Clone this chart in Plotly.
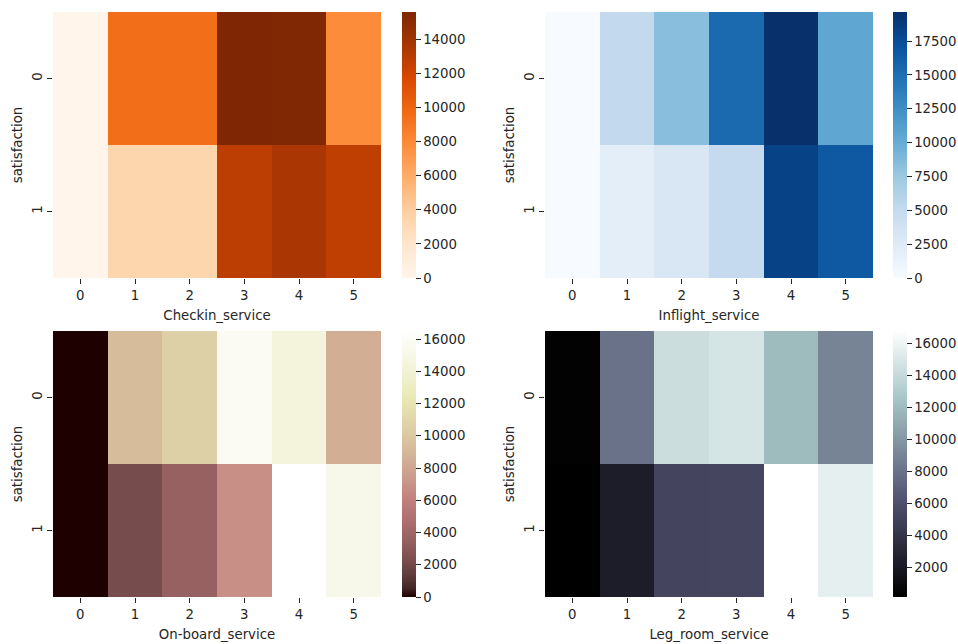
import numpy as np
import plotly.graph_objects as go

# ---- data ----
ratings = ["0", "1", "2", "3", "4", "5"]
satisfaction = ["0", "1"]

checkin_0 = [1, 9500, 9500, 15600, 15550, 7900]
checkin_1 = [0, 3400, 3400, 12800, 13500, 12700]

inflight_0 = [3, 5100, 8400, 15300, 19650, 10500]
inflight_1 = [0, 2000, 3000, 5000, 18300, 16600]

onboard_0 = [3, 9200, 10500, 15700, 14400, 8400]
onboard_1 = [0, 2200, 3600, 6800, 16500, 15200]

legroom_0 = [300, 8000, 14300, 14800, 12000, 9000]
legroom_1 = [170, 2350, 5200, 5300, 16800, 15600]

panels = [
    ("Checkin_service", [checkin_0, checkin_1], "Oranges", 2000),
    ("Inflight_service", [inflight_0, inflight_1], "Blues", 2500),
    ("On-board_service", [onboard_0, onboard_1], "pink", 2000),
    ("Leg_room_service", [legroom_0, legroom_1], "bone", 2000),
]


# ---- matplotlib-like colormaps ----
def _interp(segs, x):
    xs = [s[0] for s in segs]
    ys = [s[1] for s in segs]
    return float(np.interp(x, xs, ys))


def hot_rgb(x):
    r = _interp([(0, 0.0416), (0.365079, 1), (1, 1)], x)
    g = _interp([(0, 0), (0.365079, 0), (0.746032, 1), (1, 1)], x)
    b = _interp([(0, 0), (0.746032, 0), (1, 1)], x)
    return r, g, b


def pink_rgb(x):
    h = hot_rgb(x)
    return tuple(np.sqrt((2 * x + c) / 3) for c in h)


def bone_rgb(x):
    r = _interp([(0, 0), (0.746032, 0.652778), (1, 1)], x)
    g = _interp([(0, 0), (0.365079, 0.319444), (0.746032, 0.777778), (1, 1)], x)
    b = _interp([(0, 0), (0.365079, 0.444444), (1, 1)], x)
    return r, g, b


def make_scale(fn, n=33):
    out = []
    for i in range(n):
        t = i / (n - 1)
        r, g, b = fn(t)
        out.append([t, "rgb(%d,%d,%d)" % (round(r * 255), round(g * 255), round(b * 255))])
    return out


scales = {
    "Oranges": "Oranges",
    "Blues": "Blues",
    "pink": make_scale(pink_rgb),
    "bone": make_scale(bone_rgb),
}

W, H = 958, 644
# pixel boxes for the four heatmaps: (x0, x1, y0, y1)
boxes = [
    (53, 381, 12, 278),
    (545, 873, 12, 278),
    (53, 381, 331, 597),
    (545, 873, 331, 597),
]
cbar_x = [402, 893]

FONT = "DejaVu Sans"
FS = 13.3
TXT = "#262626"

fig = go.Figure()
layout = {}
for i, (name, z, cs, dt) in enumerate(panels):
    x0, x1, y0, y1 = boxes[i]
    dom_x = [x0 / W, x1 / W]
    dom_y = [1 - y1 / H, 1 - y0 / H]
    ax = "" if i == 0 else str(i + 1)
    zmin = min(min(r) for r in z)
    zmax = max(max(r) for r in z)
    fig.add_trace(go.Heatmap(
        z=z, x=ratings, y=satisfaction,
        xaxis="x" + ax, yaxis="y" + ax,
        colorscale=scales[cs], zmin=zmin, zmax=zmax,
        colorbar=dict(
            x=cbar_x[i % 2] / W, xanchor="left", xref="paper",
            y=(dom_y[0] + dom_y[1]) / 2, yanchor="middle", yref="paper",
            len=(y1 - y0) / H, lenmode="fraction",
            thickness=14, thicknessmode="pixels",
            outlinewidth=0, xpad=0, ypad=0,
            ticks="outside", ticklen=5, tickwidth=1, tickcolor=TXT,
            tick0=0, dtick=dt, tickformat="d",
            tickfont=dict(family=FONT, size=FS, color=TXT),
        ),
        hovertemplate="%{x}, %{y}: %{z}<extra></extra>",
    ))
    layout["xaxis" + ax] = dict(
        domain=dom_x, anchor="y" + ax, type="category",
        ticks="outside", ticklen=5, tickcolor=TXT, showline=False,
        showgrid=False, zeroline=False,
        tickfont=dict(family=FONT, size=FS, color=TXT),
        title=dict(text=name, font=dict(family=FONT, size=FS, color=TXT), standoff=8),
        automargin=False,
    )
    layout["yaxis" + ax] = dict(
        domain=dom_y, anchor="x" + ax, type="category", autorange="reversed",
        ticks="outside", ticklen=5, tickcolor=TXT, showline=False,
        showgrid=False, zeroline=False, tickangle=-90,
        tickfont=dict(family=FONT, size=FS, color=TXT),
        title=dict(text="satisfaction", font=dict(family=FONT, size=FS, color=TXT), standoff=4),
        automargin=False,
    )

fig.update_layout(
    width=W, height=H,
    margin=dict(l=0, r=0, t=0, b=0),
    paper_bgcolor="white", plot_bgcolor="white",
    showlegend=False,
    **layout,
)

fig.write_html("out.html")
